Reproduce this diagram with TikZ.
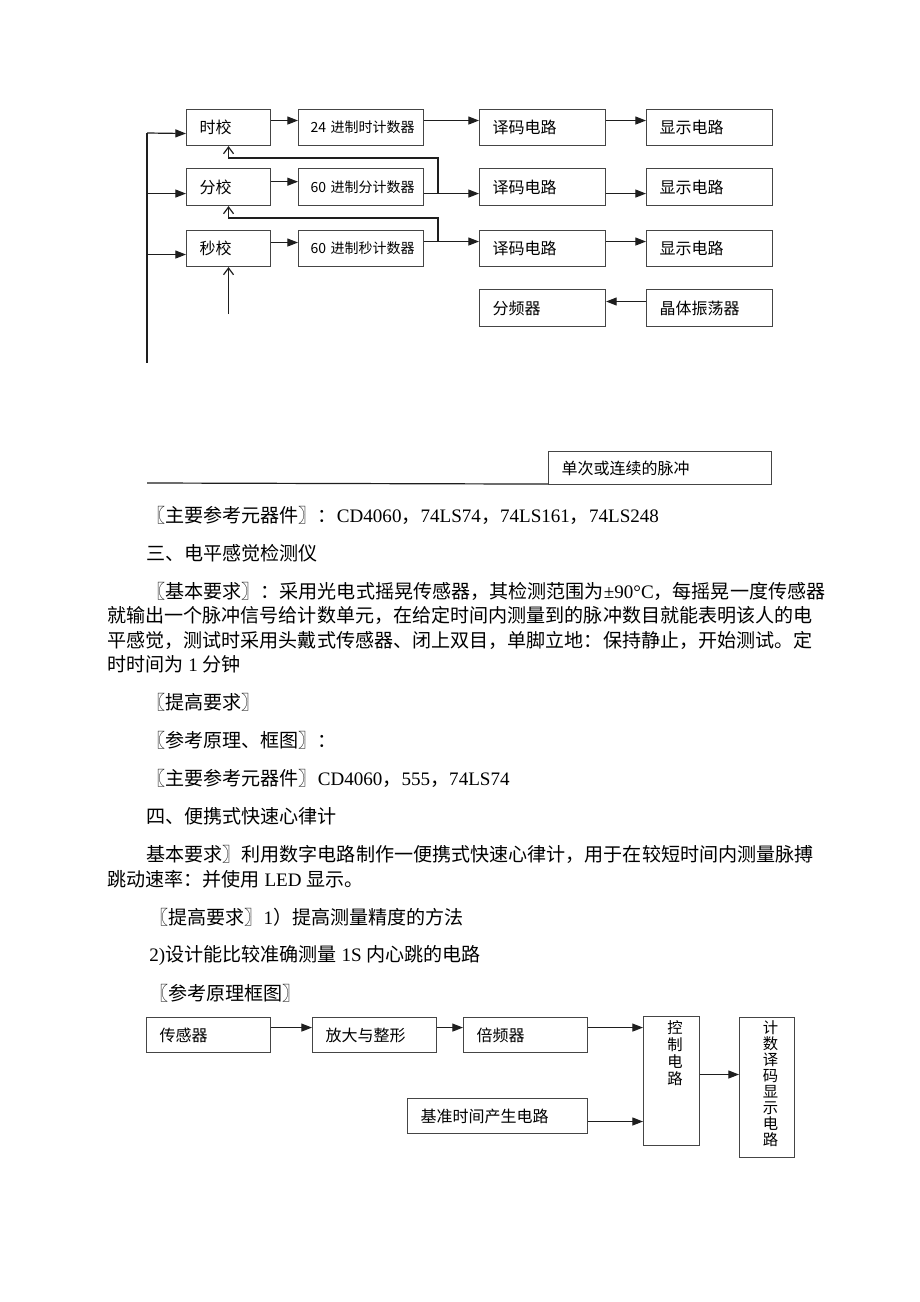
\documentclass[tikz,border=0pt]{standalone}
\usepackage{fontspec}
\setmainfont{Noto Sans CJK SC}
\newfontfamily\enfont{Liberation Serif}
\newcommand{\en}[1]{{\enfont #1}}
\usetikzlibrary{arrows.meta,calc}
\definecolor{lineColor}{HTML}{1E1E1E}
\definecolor{boxColor}{HTML}{454545}
\newcommand{\bodysize}{\fontsize{14.3pt}{17pt}\selectfont}
\newcommand{\blksize}{\fontsize{12pt}{14pt}\selectfont}
\newcommand{\cntsize}{\fontsize{10.5pt}{12pt}\selectfont}
\tikzset{
	blk/.style={draw=boxColor, line width=0.8pt, anchor=north west, inner xsep=9.75pt,
		inner ysep=0pt, align=left, font=\blksize, minimum height=27pt},
	cnt/.style={blk, font=\cntsize, inner xsep=9pt, text width=75.75pt},
	vtxt/.style={anchor=north, inner sep=0pt, align=center, font=\fontsize{11.5pt}{#1}\selectfont},
	arr/.style={draw=lineColor, line width=0.9pt, -{Triangle[length=8pt,width=6pt]}},
	barb/.style={draw=lineColor, line width=0.9pt, -{Straight Barb[length=5pt,width=7.5pt]}},
	wire/.style={draw=lineColor, line width=0.9pt},
	para/.style={anchor=west, inner sep=0pt, font=\bodysize}
}

\begin{document}
\begin{tikzpicture}[x=0.75pt, y=-0.75pt]
	\fill[white] (0,0) rectangle (920,1302);
	\useasboundingbox (0,0) rectangle (920,1302);
	% clock block diagram
	\node[blk, text width=43.5pt] (sj) at (186,109) {时校};
	\node[blk, text width=43.5pt, minimum height=27.75pt] (fj) at (186,168) {分校};
	\node[blk, text width=43.5pt] (mj) at (186,230) {秒校};
	\node[cnt] (c24) at (298,109) {24~进制时计数器};
	\node[cnt, minimum height=27.75pt] (c60f) at (298,168) {60~进制分计数器};
	\node[cnt] (c60m) at (298,230) {60~进制秒计数器};
	\node[blk, text width=75pt] (ym1) at (479,109) {译码电路};
	\node[blk, text width=75pt, minimum height=27.75pt] (ym2) at (479,168) {译码电路};
	\node[blk, text width=75pt] (ym3) at (479,230) {译码电路};
	\node[blk, text width=75pt] (xs1) at (646,109) {显示电路};
	\node[blk, text width=75pt, minimum height=27.75pt] (xs2) at (646,168) {显示电路};
	\node[blk, text width=75pt] (xs3) at (646,230) {显示电路};
	\node[blk, text width=75pt, minimum height=27.75pt] (fp) at (479,289) {分频器};
	\node[blk, text width=75pt, minimum height=27.75pt] (jt) at (646,289) {晶体振荡器};
	\node[blk, text width=147.75pt, minimum height=24.75pt] (mc) at (548,451) {单次或连续的脉冲};
	\coordinate (bus) at (147,133);
	\coordinate (busEnd) at (147,363);
	\coordinate (lineEnd) at (147,483);
	\draw[wire] (bus) -- (busEnd);
	\draw[arr] (bus) -- ([yshift=-4.5pt]sj.west);
	\draw[arr] ([yshift=-4.9pt,xshift=-29.25pt]fj.west) -- ([yshift=-4.9pt]fj.west);
	\draw[arr] ([yshift=-4.5pt,xshift=-29.25pt]mj.west) -- ([yshift=-4.5pt]mj.west);
	\draw[arr] ([yshift=5.25pt]sj.east) -- ([yshift=5.25pt]c24.west);
	\draw[arr] ([yshift=5.25pt]c24.east) -- ([yshift=5.25pt]ym1.west);
	\draw[arr] ([yshift=5.25pt]ym1.east) -- ([yshift=5.25pt]xs1.west);
	\draw[arr] ([yshift=4pt]fj.east) -- ([yshift=4pt]c60f.west);
	\draw[arr] ([yshift=-4.9pt]c60f.east) -- ([yshift=-4.9pt]ym2.west);
	\draw[arr] ([yshift=-4.9pt]ym2.east) -- ([yshift=-4.9pt]xs2.west);
	\draw[arr] ([yshift=4.5pt]mj.east) -- ([yshift=4.5pt]c60m.west);
	\draw[arr] ([yshift=5.25pt]c60m.east) -- ([yshift=5.25pt]ym3.west);
	\draw[arr] ([yshift=5.25pt]ym3.east) -- ([yshift=5.25pt]xs3.west);
	% carry lines
	\draw[barb] ([xshift=10.5pt,yshift=-4.9pt]c60f.east) |- ([yshift=-9pt]sj.south) -- (sj.south);
	\draw[barb] ([xshift=10.5pt,yshift=5.25pt]c60m.east) |- ([yshift=-9pt]fj.south) -- (fj.south);
	\draw[barb] ([yshift=-35.25pt]mj.south) -- (mj.south);
	\draw[arr] ([yshift=4.9pt]jt.west) -- ([yshift=4.9pt]fp.east);
	\draw[wire] ([yshift=0.75pt]mc.south west) -- (lineEnd);
	% text
	\node[para] (t1) at (146,515) {〖主要参考元器件〗：\en{CD4060}，\en{74LS74}，\en{74LS161}，\en{74LS248}};
	\node[para] (t2) at (146,553) {三、电平感觉检测仪};
	\node[para] (t3) at (146,591) {〖基本要求〗：采用光电式摇晃传感器，其检测范围为\en{±90°C}，每摇晃一度传感器};
	\node[para] (t4) at (107,615.5) {就输出一个脉冲信号给计数单元，在给定时间内测量到的脉冲数目就能表明该人的电};
	\node[para] (t5) at (107,640) {平感觉，测试时采用头戴式传感器、闭上双目，单脚立地：保持静止，开始测试。定};
	\node[para] (t6) at (107,664.5) {时时间为\en{ 1 }分钟};
	\node[para] (t7) at (146,702.5) {〖提高要求〗};
	\node[para] (t8) at (146,740.5) {〖参考原理、框图〗：};
	\node[para] (t9) at (146,778.5) {〖主要参考元器件〗\en{CD4060}，\en{555}，\en{74LS74}};
	\node[para] (t10) at (146,816.5) {四、便携式快速心律计};
	\node[para] (t11) at (146,854.5) {基本要求〗利用数字电路制作一便携式快速心律计，用于在较短时间内测量脉搏};
	\node[para] (t12) at (107,879) {跳动速率：并使用\en{ LED }显示。};
	\node[para] (t13) at (149,917) {〖提高要求〗\en{1}）提高测量精度的方法};
	\node[para] (t14) at (149,955) {\en{2)}设计能比较准确测量\en{ 1S }内心跳的电路};
	\node[para] (t15) at (149,993) {〖参考原理框图〗};
	% heart rate block diagram
	\node[blk, text width=73.5pt, minimum height=26.25pt] (cg) at (146,1017) {传感器};
	\node[blk, text width=73.5pt, minimum height=26.25pt] (fd) at (312,1017) {放大与整形};
	\node[blk, text width=73.5pt, minimum height=26.25pt] (bp) at (463,1017) {倍频器};
	\node[blk, text width=115.5pt, minimum height=26.25pt] (jz) at (407,1098) {基准时间产生电路};
	\node[blk, minimum width=42pt, minimum height=96.75pt] (kz) at (643,1016) {};
	\node[vtxt=12.75pt, xshift=2.6pt, yshift=-3pt] (kzT) at (kz.north) {控\\制\\电\\路};
	\node[blk, minimum width=41.25pt, minimum height=105pt] (js) at (739,1017) {};
	\node[vtxt=12pt, xshift=2.6pt, yshift=-2.25pt] (jsT) at (js.north) {计\\数\\译\\码\\显\\示\\电\\路};
	\draw[arr] ([yshift=5.6pt]cg.east) -- ([yshift=5.6pt]fd.west);
	\draw[arr] ([yshift=5.6pt]fd.east) -- ([yshift=5.6pt]bp.west);
	\draw[arr] ([yshift=5.6pt]bp.east) -- ([yshift=5.6pt]bp.east -| kz.west);
	\draw[arr] ([yshift=-4.1pt]jz.east) -- ([yshift=-4.1pt]jz.east -| kz.west);
	\draw[arr] ([yshift=4.9pt]kz.east) -- ([yshift=4.9pt]kz.east -| js.west);
\end{tikzpicture}
\end{document}
